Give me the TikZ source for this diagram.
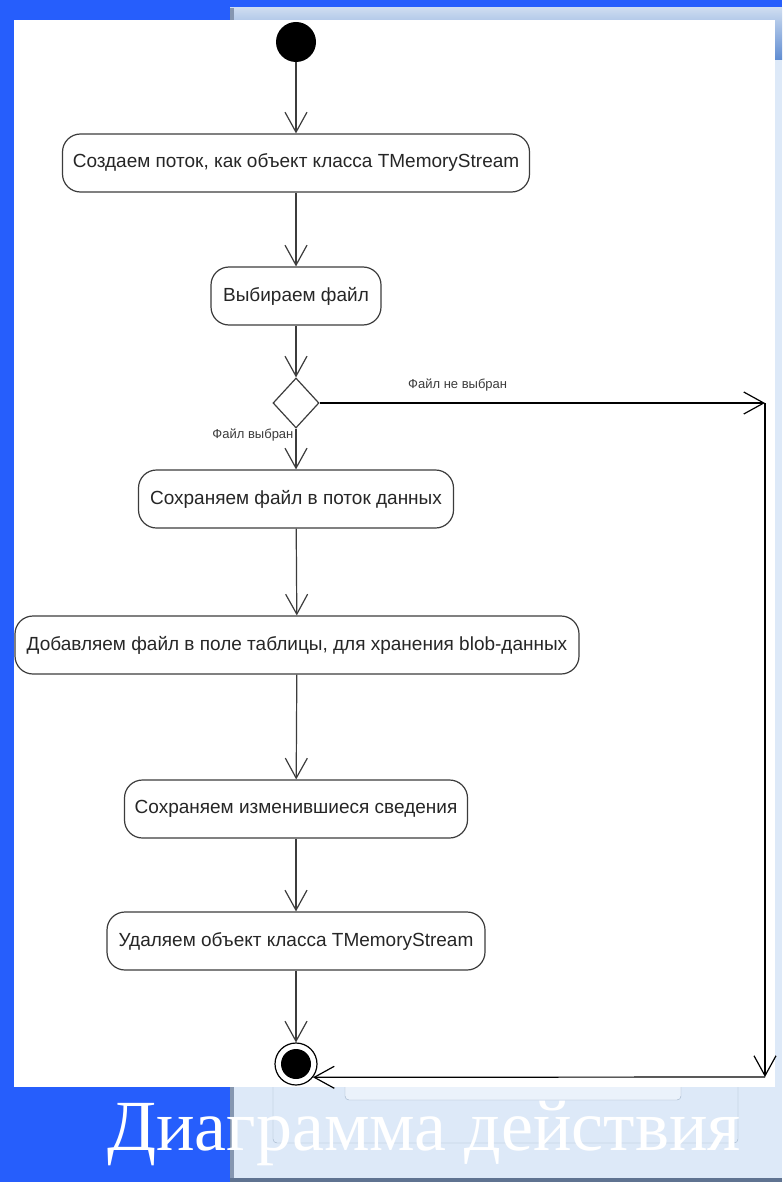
\documentclass[tikz,border=0pt]{standalone}
\usepackage{fontspec}
\setmainfont{Liberation Sans}
\newfontfamily\titlefont{Liberation Serif}
\usepackage{xcolor}
\usetikzlibrary{positioning}
\usetikzlibrary{shapes.geometric}
\usetikzlibrary{arrows.meta}
\definecolor{slideblue}{RGB}{38,94,252}
\definecolor{panelblue}{RGB}{221,233,248}
\definecolor{panelline}{RGB}{160,178,200}
\definecolor{barlight}{RGB}{205,220,240}
\definecolor{bardark}{RGB}{95,140,210}
\definecolor{frameblue}{RGB}{95,115,145}
\definecolor{edgegrey}{RGB}{60,60,60}
\tikzset{
    action/.style={draw=edgegrey, line width=1.2pt, rounded corners=18pt, fill=white,
        minimum height=58pt, inner sep=0pt, text=black!85, font=\fontsize{19}{22}\selectfont},
    decision/.style={diamond, draw=edgegrey, line width=1.2pt, fill=white,
        minimum width=46pt, minimum height=50pt, inner sep=0pt},
    startnode/.style={circle, fill=black, minimum size=40pt, inner sep=0pt},
    endnode/.style={circle, draw=black, line width=1.2pt, minimum size=42pt, inner sep=0pt,
        path picture={\fill[black] (path picture bounding box.center) circle (15pt);}},
    flow/.style={->, draw=edgegrey, line width=1.2pt},
    guard/.style={font=\fontsize{13}{15}\selectfont, text=edgegrey}
}

\begin{document}
\begin{tikzpicture}[x=1pt, y=-1pt, >={Straight Barb[length=20pt, width=22pt]}]
    \useasboundingbox (0,0) rectangle (782,1182);

    % Slide and window behind the diagram
    \fill[slideblue] (0,0) rectangle (782,1182);
    \fill[panelblue] (230,8) rectangle (782,1182);
    \shade[top color=barlight, bottom color=bardark] (230,8) rectangle (782,60);
    \fill[frameblue!70!panelblue] (230,8) rectangle (234,1182);
    \draw[panelline, rounded corners=4pt] (273,1060) -- (273,1143) -- (738,1143) -- (738,1060);
    \draw[panelline, fill=panelblue!60!white, rounded corners=4pt] (345,1060) -- (345,1100) -- (681,1100) -- (681,1060);
    \fill[frameblue] (230,1178) rectangle (782,1182);

    % Diagram sheet
    \fill[white] (14,20) rectangle (775,1087);

    % Nodes
    \node[startnode] (start) at (296,42) {};
    \node[action, minimum width=467pt] (create) at (296,163) {Создаем поток, как объект класса TMemoryStream};
    \node[action, minimum width=170pt] (choose) at (296,296) {Выбираем файл};
    \node[decision] (dec) at (296,403) {};
    \node[action, minimum width=315pt] (save) at (296,499) {Сохраняем файл в поток данных};
    \node[action, minimum width=564pt] (addblob) at (297,645) {Добавляем файл в поле таблицы, для хранения blob-данных};
    \node[action, minimum width=343pt] (commit) at (296,809) {Сохраняем изменившиеся сведения};
    \node[action, minimum width=378pt] (free) at (296,941) {Удаляем объект класса TMemoryStream};
    \node[endnode] (end) at (296,1064) {};

    % Bend points of the bypass
    \coordinate (c1) at (765,403);
    \coordinate (c2) at (765,1077);

    % Main flow
    \draw[flow] (start) -- (create);
    \draw[flow] (create) -- (choose);
    \draw[flow] (choose) -- (dec);
    \draw[flow] (dec) -- node[guard, left, pos=0.15, inner sep=2pt] {Файл выбран} (save);
    \draw[flow] (save) -- (addblob);
    \draw[flow] (addblob) -- (commit);
    \draw[flow] (commit) -- (free);
    \draw[flow] (free) -- (end);

    % Bypass when no file is chosen
    \draw[flow, draw=black] (dec.east) -- node[guard, above, pos=0.31, yshift=8pt] {Файл не выбран} (c1);
    \draw[flow, draw=black] (c1) -- (c2);
    \draw[flow, draw=black] (c2) -- (end.-38);

    % Slide title
    \node[text=white, anchor=base, font=\titlefont\fontsize{72}{82}\selectfont] (title) at (424,1150) {Диаграмма действия};
\end{tikzpicture}
\end{document}
